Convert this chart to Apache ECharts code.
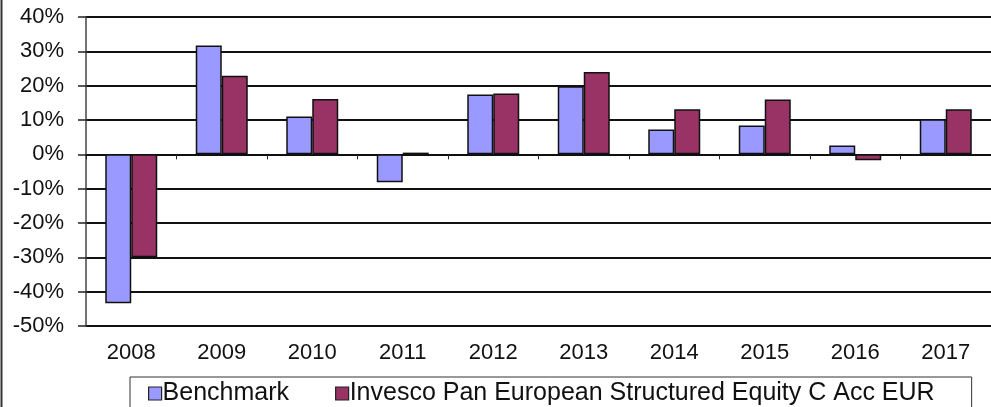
<!DOCTYPE html>
<html><head><meta charset="utf-8">
<script src="https://cdn.jsdelivr.net/npm/echarts@6/dist/echarts.min.js"></script>
<style>html,body{margin:0;padding:0;background:#fff}#c{width:991px;height:407px}</style>
</head><body><div id="c"></div>
<script>
const years = ['2008','2009','2010','2011','2012','2013','2014','2015','2016','2017'];
const benchmark = [-43.4, 31.7, 11.0, -8.1, 17.4, 19.8, 7.2, 8.4, 2.6, 10.2];
const invesco = [-30.0, 22.9, 16.1, 0.5, 17.7, 24.0, 13.1, 16.0, -1.7, 13.1];
const seriesNames = ['Benchmark', 'Invesco Pan European Structured Equity C Acc EUR'];
const yMin = -50, yMax = 40, yStep = 10;

const chart = echarts.init(document.getElementById('c'), null, {renderer: 'canvas'});
const font = 'Liberation Sans, Arial, sans-serif';
chart.setOption({
  animation: false,
  backgroundColor: '#fff',
  grid: {left: 86, right: 0, top: 17, bottom: 81, containLabel: false},
  xAxis: {
    type: 'category', data: years,
    axisLine: {onZero: true, lineStyle: {color: '#111', width: 1.5}},
    axisTick: {show: true, length: 5, inside: false, lineStyle: {color: '#222'}},
    axisLabel: {show: false}
  },
  yAxis: {
    type: 'value', min: yMin, max: yMax, interval: yStep,
    axisLine: {show: true, lineStyle: {color: '#444', width: 1.5}},
    axisTick: {show: true, length: 8, lineStyle: {color: '#222', width: 1.5}},
    axisLabel: {formatter: v => v + '%', color: '#111', fontSize: 22, fontFamily: font, margin: 22},
    splitLine: {show: true, lineStyle: {color: '#111', width: 1.8}}
  },
  legend: {
    left: 130, top: 377,
    padding: [4, 37, 20, 18],
    borderColor: '#333', borderWidth: 1,
    itemWidth: 13, itemHeight: 13, itemGap: 46,
    icon: 'rect',
    itemStyle: {borderColor: '#222', borderWidth: 1.2},
    textStyle: {fontSize: 25, fontFamily: font, color: '#111', padding: [0, 0, 0, -4]},
    data: seriesNames
  },
  series: [
    {name: seriesNames[0], type: 'bar', data: benchmark, barWidth: 26, barGap: '0%',
     itemStyle: {color: '#9999FF', borderColor: '#111', borderWidth: 1.5}},
    {name: seriesNames[1], type: 'bar', data: invesco, barWidth: 26, barGap: '0%',
     itemStyle: {color: '#993366', borderColor: '#111', borderWidth: 1.5}}
  ],
  graphic: [
    {type: 'line', shape: {x1: 1.5, y1: 0, x2: 1.5, y2: 407}, style: {stroke: '#333', lineWidth: 2}}
  ].concat(years.map((y, i) => ({
    type: 'text', z: 10,
    style: {text: y, x: 86 + (905 / years.length) * (i + 0.5), y: 353, align: 'center', verticalAlign: 'middle',
            fontSize: 22, fontFamily: font, fill: '#111'}
  })))
});
</script></body></html>
